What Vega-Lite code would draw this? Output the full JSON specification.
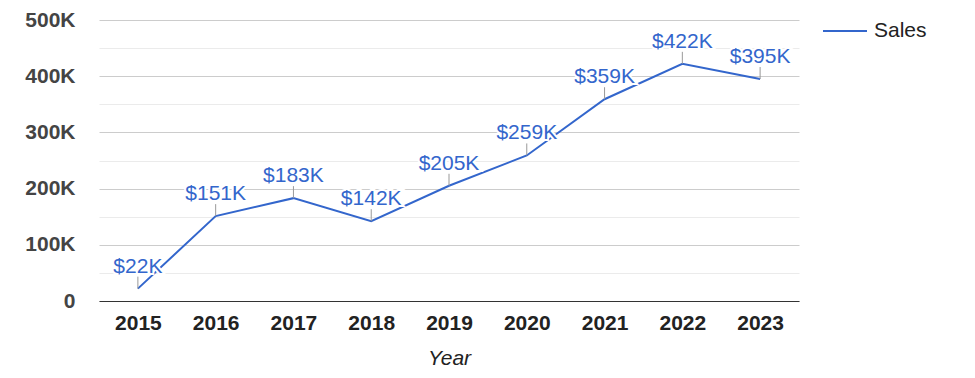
{
  "$schema": "https://vega.github.io/schema/vega-lite/v6.json",
  "width": 700,
  "height": 281,
  "autosize": {"type": "none"},
  "padding": {"left": 99, "top": 20, "right": 176, "bottom": 77},
  "background": "white",
  "config": {
    "view": {"stroke": null},
    "font": "Liberation Sans"
  },
  "data": {
    "values": [
      {"Year": "2015", "Sales": 22000},
      {"Year": "2016", "Sales": 151000},
      {"Year": "2017", "Sales": 183000},
      {"Year": "2018", "Sales": 142000},
      {"Year": "2019", "Sales": 205000},
      {"Year": "2020", "Sales": 259000},
      {"Year": "2021", "Sales": 359000},
      {"Year": "2022", "Sales": 422000},
      {"Year": "2023", "Sales": 395000}
    ]
  },
  "transform": [
    {"calculate": "'$' + round(datum.Sales / 1000) + 'K'", "as": "label"}
  ],
  "encoding": {
    "x": {
      "field": "Year",
      "type": "ordinal",
      "scale": {"type": "point", "padding": 0.5},
      "axis": {
        "title": "Year",
        "titleFontStyle": "italic",
        "titleFontWeight": "normal",
        "titleFontSize": 21,
        "titleColor": "#222222",
        "titlePadding": 14,
        "labelAngle": 0,
        "labelFontSize": 21,
        "labelFontWeight": "bold",
        "labelColor": "#222222",
        "labelPadding": 11,
        "ticks": false,
        "grid": false,
        "domainColor": "#333333",
        "domainWidth": 1.2
      }
    },
    "y": {
      "field": "Sales",
      "type": "quantitative",
      "scale": {"domain": [0, 500000], "nice": false},
      "axis": {
        "title": null,
        "values": [0, 50000, 100000, 150000, 200000, 250000, 300000, 350000, 400000, 450000, 500000],
        "labelExpr": "datum.value % 100000 === 0 ? (datum.value === 0 ? '0' : (datum.value / 1000) + 'K') : ''",
        "labelFontSize": 21,
        "labelFontWeight": "bold",
        "labelColor": "#444444",
        "labelPadding": 24,
        "ticks": false,
        "domain": false,
        "grid": true,
        "gridColor": {
          "condition": {"test": "datum.value % 100000 === 0", "value": "#cccccc"},
          "value": "#ebebeb"
        }
      }
    }
  },
  "layer": [
    {
      "mark": {"type": "line", "strokeWidth": 2},
      "encoding": {
        "color": {
          "datum": "Sales",
          "scale": {"range": ["#3366cc"]},
          "legend": {
            "title": null,
            "orient": "none",
            "legendX": 723,
            "legendY": -12,
            "padding": 0,
            "symbolType": "stroke",
            "symbolSize": 1936,
            "symbolStrokeWidth": 2,
            "labelFontSize": 21,
            "labelColor": "#222222",
            "labelOffset": 6
          }
        }
      }
    },
    {
      "mark": {"type": "rule", "color": "#999999", "strokeWidth": 1, "y2Offset": -12},
      "encoding": {"y2": {"field": "Sales"}}
    },
    {
      "mark": {"type": "text", "fontSize": 21, "baseline": "alphabetic", "yOffset": -16, "fill": "white", "stroke": "white", "strokeWidth": 4},
      "encoding": {"text": {"field": "label"}}
    },
    {
      "mark": {"type": "text", "fontSize": 21, "baseline": "alphabetic", "yOffset": -16, "fill": "#3366cc"},
      "encoding": {"text": {"field": "label"}}
    }
  ]
}
